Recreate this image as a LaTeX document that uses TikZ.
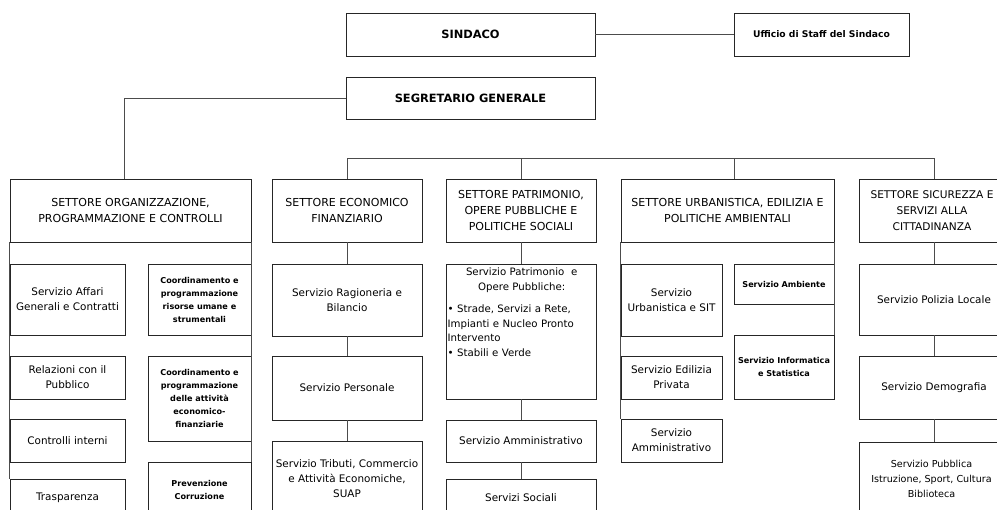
\documentclass[tikz,border=0pt]{standalone}
\usepackage{fontspec}
\setmainfont{DejaVu Sans}
\newcommand\bx[7][]{\node[bx,#1,minimum width={#5-#3},minimum height={#6-#4}] (#2) at ({(#3+#5)/2},{(#4+#6)/2}) {#7};}
\tikzset{
  bx/.style={draw=black!85,line width=0.9pt,inner sep=0pt,align=center,font=\fontsize{10.4}{15}\selectfont},
  top/.style={font=\bfseries\fontsize{11.4}{15}\selectfont},
  sett/.style={font=\fontsize{11}{16}\selectfont},
  sm/.style={font=\bfseries\fontsize{8.1}{13}\selectfont},
  ln/.style={draw=black!70,line width=0.9pt},
}
\begin{document}
\begin{tikzpicture}[x=1pt,y=-1pt]
\useasboundingbox (0,0) rectangle (997,510);
\clip (0,0) rectangle (997,510);
% top level
\bx[top]{sin}{346}{13}{595}{56}{SINDACO}
\bx[font=\bfseries\fontsize{9.2}{12}\selectfont]{uff}{734}{13}{909}{56}{Ufficio di Staff del Sindaco}
\bx[top]{seg}{346}{77}{595}{119}{SEGRETARIO GENERALE}
% settori
\bx[sett]{org}{10}{179}{251}{242}{SETTORE ORGANIZZAZIONE,\\PROGRAMMAZIONE E CONTROLLI}
\bx[sett]{eco}{272}{179}{422}{242}{SETTORE ECONOMICO\\FINANZIARIO}
\bx[sett]{pat}{446}{179}{596}{242}{SETTORE PATRIMONIO,\\OPERE PUBBLICHE E\\POLITICHE SOCIALI}
\bx[sett]{urb}{621}{179}{834}{242}{SETTORE URBANISTICA, EDILIZIA E\\POLITICHE AMBIENTALI}
\bx[sett,font=\fontsize{10.6}{16}\selectfont]{sic}{859}{179}{1005}{242}{SETTORE SICUREZZA E\\SERVIZI ALLA\\CITTADINANZA}
% organizzazione
\bx{oaff}{10}{264}{125}{335}{Servizio Affari\\Generali e Contratti}
\bx{orel}{10}{356}{125}{399}{Relazioni con il\\Pubblico}
\bx{ocon}{10}{419}{125}{462}{Controlli interni}
\bx{otra}{10}{479}{125}{516}{Trasparenza}
\bx[sm]{ocr1}{148}{264}{251}{335}{Coordinamento e\\programmazione\\risorse umane e\\strumentali}
\bx[sm]{ocr2}{148}{356}{251}{441}{Coordinamento e\\programmazione\\delle attività\\economico-\\finanziarie}
\bx[sm]{oprev}{148}{462}{251}{518}{Prevenzione\\Corruzione}
% economico
\bx{erag}{272}{264}{422}{336}{Servizio Ragioneria e\\Bilancio}
\bx{eper}{272}{356}{422}{420}{Servizio Personale}
\bx{etri}{272}{441}{422}{516}{Servizio Tributi, Commercio\\e Attività Economiche,\\SUAP}
% patrimonio
\bx{ppat}{446}{264}{596}{399}{}
\node[anchor=north west,text width=148pt,inner sep=0pt,font=\fontsize{10.2}{14.5}\selectfont] (ppatt) at (447.5,268)
  {{\centering Servizio Patrimonio\ \ e\\Opere Pubbliche:\par}\vspace{8pt}\raggedright • Strade, Servizi a Rete,\\Impianti e Nucleo Pronto\\Intervento\\• Stabili e Verde};
\bx{pamm}{446}{420}{596}{462}{Servizio Amministrativo}
\bx{psoc}{446}{479}{596}{516}{Servizi Sociali}
% urbanistica
\bx{usit}{621}{264}{722}{336}{Servizio\\Urbanistica e SIT}
\bx{uedi}{621}{356}{722}{399}{Servizio Edilizia\\Privata}
\bx{uamm}{621}{419}{722}{462}{Servizio\\Amministrativo}
\bx[sm]{uamb}{734}{264}{834}{304}{Servizio Ambiente}
\bx[sm]{uinf}{734}{335}{834}{399}{Servizio Informatica\\e Statistica}
% sicurezza
\bx{spol}{859}{264}{1009}{335}{Servizio Polizia Locale}
\bx{sdem}{859}{356}{1009}{419}{Servizio Demografia}
\bx[font=\fontsize{9.6}{15}\selectfont]{spub}{859}{442}{1004}{516}{Servizio Pubblica\\Istruzione, Sport, Cultura\\Biblioteca}
% coordinates
\coordinate (orgtop) at (124,179);
\coordinate (busR) at (934,158);
\coordinate (urbtop) at (734,179);
% connectors
\draw[ln] (sin.east) -- (uff.west);
\draw[ln] (seg.west) -| (orgtop);
\draw[ln] (eco.north) |- (busR) -- (busR |- sic.north);
\draw[ln] (pat.north) -- (pat.north |- busR);
\draw[ln] (urbtop) -- (urbtop |- busR);
\draw[ln] (org.south west) -- (otra.north west);
\draw[ln] (org.south east) -- (oprev.north east);
\draw[ln] (eco.south) -- (erag.north);
\draw[ln] (erag.south) -- (eper.north);
\draw[ln] (eper.south) -- (etri.north);
\draw[ln] (pat.south) -- (ppat.north);
\draw[ln] (ppat.south) -- (pamm.north);
\draw[ln] (pamm.south) -- (psoc.north);
\draw[ln] (urb.south west) -- (uamm.north west);
\draw[ln] (urb.south east) -- (uinf.north east);
\draw[ln] (busR |- sic.south) -- (busR |- spol.north);
\draw[ln] (busR |- spol.south) -- (busR |- sdem.north);
\draw[ln] (busR |- sdem.south) -- (busR |- spub.north);
\end{tikzpicture}
\end{document}
